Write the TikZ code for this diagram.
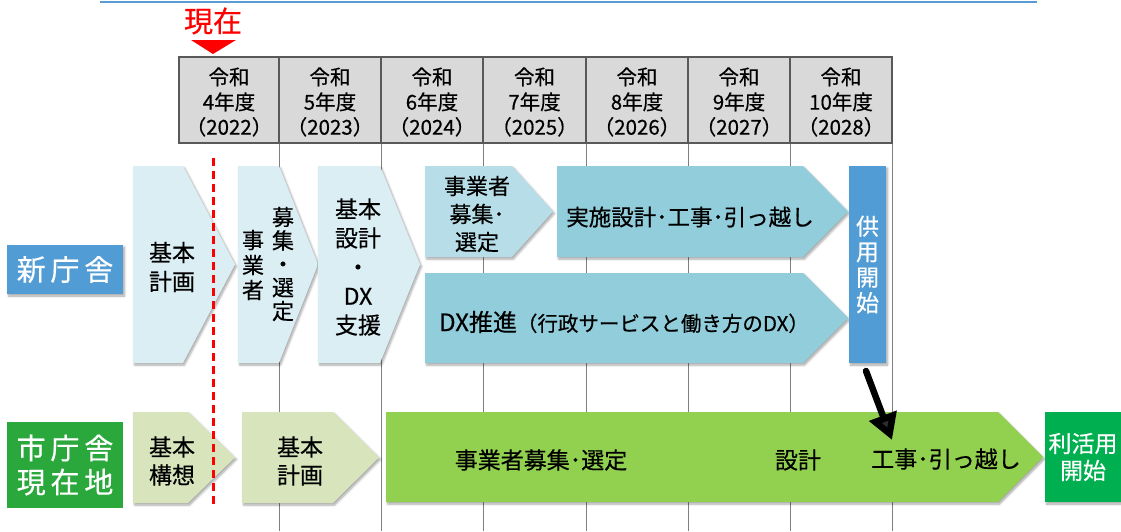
\documentclass[tikz,border=0pt]{standalone}
\usepackage{fontspec}
\setmainfont{Noto Sans CJK JP}[FakeBold=0.5]
\usetikzlibrary{arrows.meta,shadows.blur}
\definecolor{lbA}{HTML}{DAEEF3}
\definecolor{lbB}{HTML}{B7DEE8}
\definecolor{lbC}{HTML}{92CDDC}
\definecolor{blueBox}{HTML}{519CD4}
\definecolor{lgA}{HTML}{D8E4BC}
\definecolor{lgB}{HTML}{92D050}
\definecolor{grBox}{HTML}{2BA83C}
\definecolor{grEnd}{HTML}{00B050}
\definecolor{hdrGray}{HTML}{D9D9D9}
\definecolor{topLine}{HTML}{5B9BD5}
\tikzset{
  shp/.style={blur shadow={shadow xshift=1.5pt,shadow yshift=-2pt,shadow blur steps=6,shadow opacity=35}},
  lbl/.style={font=\fontsize{23}{29}\selectfont, align=center, inner sep=0pt, text=black},
  hdr/.style={font=\fontsize{20.5}{25}\selectfont, align=center, inner sep=0pt},
  gridline/.style={draw=black!50, line width=1pt},
  hdrline/.style={draw=black!65, line width=1.2pt},
}
\newcommand{\pentshape}[6]{%
  \fill[#1, shp] (#2,#3) -- (#4,#3) -- (#5,{(#3+#6)/2}) -- (#4,#6) -- (#2,#6) -- cycle;}
\begin{document}
\begin{tikzpicture}[x=1pt,y=-1pt]
\useasboundingbox (0,0) rectangle (1121,531);
% top line
\draw[topLine, line width=1.5pt] (100,2) -- (1037,2);
% header
\fill[hdrGray] (179,57) rectangle (892,143);
\foreach \xx in {279,381,483,586,688,790,892}{
  \draw[gridline] (\xx,143) -- (\xx,531);
}
\draw[hdrline] (179,57) rectangle (892,143);
\foreach \xx in {279,381,483,586,688,790}{
  \draw[hdrline] (\xx,57) -- (\xx,143);
}
\node[hdr] (h1) at (229,102) {令和\\4年度\\（2022）};
\node[hdr] (h2) at (330,102) {令和\\5年度\\（2023）};
\node[hdr] (h3) at (432,102) {令和\\6年度\\（2024）};
\node[hdr] (h4) at (534.5,102) {令和\\7年度\\（2025）};
\node[hdr] (h5) at (637,102) {令和\\8年度\\（2026）};
\node[hdr] (h6) at (739,102) {令和\\9年度\\（2027）};
\node[hdr] (h7) at (841,102) {令和\\10年度\\（2028）};
% now marker
\node[text=red, font=\fontsize{29}{30}\selectfont, inner sep=0pt] (now) at (213,21) {現在};
\fill[red] (191,40) -- (236,40) -- (213,54) -- cycle;
% row labels
\node[fill=blueBox, text=white, minimum width=116pt, minimum height=49pt, inner sep=0pt,
  font=\fontsize{29}{30}\selectfont, shp] (newb) at (65,269.5) {新\,庁\,舎};
\node[fill=grBox, text=white, minimum width=116pt, minimum height=86pt, inner sep=0pt,
  align=center, font=\fontsize{29}{34}\selectfont] (curb) at (65,465) {市\,庁\,舎\\現\,在\,地};
% new building shapes
\pentshape{lbA}{133}{166}{183}{235}{363}
\pentshape{lbA}{238}{166}{279}{318}{363}
\pentshape{lbA}{318}{166}{380}{420}{363}
\pentshape{lbB}{425}{166}{512}{553}{257}
\pentshape{lbC}{557}{166}{803}{848}{257}
\pentshape{lbC}{425}{273}{803}{848}{363}
\node[lbl] (n1) at (172,267) {基本\\計画};
\node[lbl, font=\fontsize{22}{25}\selectfont] (n2a) at (253,265) {事\\業\\者};
\node[lbl, font=\fontsize{22}{23.5}\selectfont] (n2b) at (283,264) {募\\集\\・\\選\\定};
\node[lbl] (n3) at (358,267) {基本\\設計\\・\\DX\\支援};
\node[lbl, font=\fontsize{22}{28}\selectfont] (n4) at (477,214) {事業者\\募集･\\選定};
\node[lbl, font=\fontsize{22.5}{28}\selectfont] (n5) at (690,217) {実施設計･工事･引っ越し};
\node[lbl, font=\fontsize{24}{29}\selectfont] (n6) at (624,322) {DX推進{\fontsize{20.5}{22}\selectfont（行政サービスと働き方のDX）}};
\node[fill=blueBox, text=white, minimum width=37pt, minimum height=197pt, inner sep=0pt,
  align=center, font=\fontsize{23}{25.5}\selectfont, shp] (kyoyo) at (867.5,264.5) {供\\用\\開\\始};
% current site shapes
\pentshape{lgA}{133}{412}{188}{235}{503}
\pentshape{lgA}{242}{412}{333}{379}{503}
\pentshape{lgB}{386}{412}{998}{1043}{502}
\node[lbl, font=\fontsize{23}{28}\selectfont] (c1) at (172,461) {基本\\構想};
\node[lbl, font=\fontsize{23}{28}\selectfont] (c2) at (300,461) {基本\\計画};
\node[lbl] (c3) at (541,460) {事業者募集･選定};
\node[lbl] (c4) at (798,460) {設計};
\node[lbl] (c5) at (946,459) {工事･引っ越し};
\node[fill=grEnd, text=white, minimum width=76pt, minimum height=90pt, inner sep=0pt,
  align=center, font=\fontsize{23}{27}\selectfont, shp] (endb) at (1083,457) {利活用\\開始};
% now line
\draw[red, line width=3pt, dash pattern=on 8pt off 5pt] (213,158) -- (213,507);
% black arrow
\coordinate (arrS) at (866,371);
\coordinate (arrE) at (892,440);
\draw[line width=6.5pt, line cap=round, -{Triangle[length=26pt,width=28pt]}] (arrS) -- (arrE);
\end{tikzpicture}
\end{document}
